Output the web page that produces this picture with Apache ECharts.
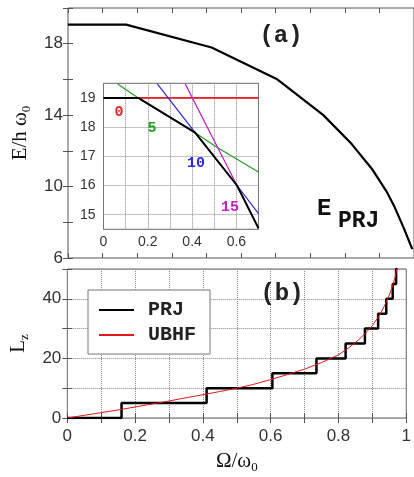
<!DOCTYPE html>
<html><head><meta charset="utf-8">
<script src="https://cdn.jsdelivr.net/npm/echarts@6/dist/echarts.min.js"></script>
<style>html,body{margin:0;padding:0;background:#fff}#c{width:414px;height:477px}</style>
</head><body><div id="c"></div>
<script>
// ---- panel (a): PRJ yrast energy ----
const mainOmega = [0, 0.168, 0.415, 0.603, 0.738, 0.82, 0.878, 0.92, 0.944, 0.962, 0.972, 0.995];
const mainE     = [19.07, 19.07, 17.79, 16.03, 14.0, 12.38, 11.0, 9.75, 8.85, 8.05, 7.6, 6.5];

// ---- inset of (a) ----
const insetPRJOmega = [0, 0.157, 0.414, 0.603, 0.70];
const insetPRJE     = [19.0, 19.0, 17.81, 16.0, 14.53];
const insetL0Omega  = [0, 0.70];
const insetL0E      = [19.0, 19.0];
const insetL5Omega  = [0.064, 0.157, 0.414, 0.512, 0.70];
const insetL5E      = [19.48, 19.0, 17.81, 17.31, 16.46];
const insetL10Omega = [0.243, 0.414, 0.603, 0.70];
const insetL10E     = [19.48, 17.81, 16.0, 15.04];
const insetL15Omega = [0.369, 0.603, 0.70];
const insetL15E     = [19.48, 16.0, 14.55];
const insetLineLabels = ['0', '5', '10', '15'];

// ---- panel (b): angular momentum ----
const stepOmega = [0, 0.160, 0.411, 0.605, 0.735, 0.821, 0.878, 0.917, 0.941, 0.960, 0.970, 0.974];
const stepL     = [0, 5, 10, 15, 20, 25, 30, 35, 40, 45, 50, 50];
const ubhfOmega = [0, 0.05, 0.1, 0.15, 0.2, 0.25, 0.3, 0.35, 0.4, 0.45, 0.5, 0.55, 0.6, 0.65, 0.7, 0.75, 0.8, 0.83, 0.86, 0.88, 0.9, 0.92, 0.935, 0.95, 0.96, 0.967, 0.972];
const ubhfL     = [0, 0.9, 1.8, 2.7, 3.7, 4.7, 5.7, 6.8, 7.8, 8.9, 10.0, 11.3, 12.9, 14.6, 16.4, 18.6, 21.2, 23.5, 26.3, 28.5, 31.0, 34.3, 37.5, 41.2, 44.5, 47.2, 50.0];
const legendNames = ['PRJ', 'UBHF'];

// ---- tick labels ----
const mainYTickLabels   = ['6', '10', '14', '18'];
const bottomYTickLabels = ['0', '20', '40'];
const bottomXTickLabels = ['0', '0.2', '0.4', '0.6', '0.8', '1'];
const insetXTickLabels  = ['0', '0.2', '0.4', '0.6'];
const insetYTickLabels  = ['15', '16', '17', '18', '19'];

const zip = (a, b) => a.map((v, i) => [v, b[i]]);
const fmt = list => v => { const s = String(+(+v).toFixed(3)); return list.includes(s) ? s : ''; };

const tickFont = {fontFamily: 'Liberation Sans', fontSize: 17, color: '#333'};
const serifName = {
  fontFamily: 'Liberation Serif', fontSize: 21, color: '#111',
  rich: {
    a: {fontFamily: 'Liberation Serif', fontSize: 21, lineHeight: 26, color: '#111'},
    b: {fontFamily: 'Liberation Serif', fontSize: 13, lineHeight: 13, verticalAlign: 'bottom', color: '#111'}
  }
};
const inTick = {show: true, inside: true, length: 5, lineStyle: {color: '#555', width: 1}};
const dotted = {show: true, lineStyle: {type: 'dotted', color: '#888', width: 1}};
const monoBold = (size) => 'bold ' + size + 'px "Liberation Mono"';

const chart = echarts.init(document.getElementById('c'), null, {renderer: 'canvas'});
chart.setOption({
  animation: false,
  backgroundColor: '#fff',
  grid: [
    {left: 68, top: 8, width: 346, height: 250, show: true, borderColor: '#555', borderWidth: 1},
    {left: 103.5, top: 83.3, width: 155, height: 146, show: true, backgroundColor: '#fff', borderColor: '#666', borderWidth: 1},
    {left: 65, top: 269, width: 349, height: 149, show: true, borderColor: '#666', borderWidth: 1}
  ],
  xAxis: [
    {gridIndex: 0, type: 'value', min: 0, max: 1, interval: 0.1, axisLine: {show: false}, axisTick: inTick, axisLabel: {show: false}, splitLine: {show: false}},
    {gridIndex: 0, type: 'value', position: 'top', min: 0, max: 1, interval: 0.1, axisLine: {show: false}, axisTick: inTick, axisLabel: {show: false}, splitLine: {show: false}},
    {gridIndex: 1, type: 'value', min: 0, max: 0.7, interval: 0.1, axisLine: {show: false}, axisTick: {show: false},
     axisLabel: {formatter: fmt(insetXTickLabels), fontFamily: 'Liberation Sans', fontSize: 14, color: '#333', margin: 6}, splitLine: dotted},
    {gridIndex: 2, type: 'value', min: 0, max: 1, interval: 0.1, axisLine: {show: false}, axisTick: inTick,
     axisLabel: Object.assign({formatter: fmt(bottomXTickLabels), margin: 10, showMaxLabel: true}, tickFont), splitLine: dotted,
     name: '{a|Ω/ω}{b|0}', nameLocation: 'middle', nameGap: 30, nameTextStyle: serifName},
    {gridIndex: 2, type: 'value', position: 'top', min: 0, max: 1, interval: 0.1, axisLine: {show: false}, axisTick: inTick, axisLabel: {show: false}, splitLine: {show: false}}
  ],
  yAxis: [
    {gridIndex: 0, type: 'value', min: 6, max: 20, interval: 2, axisLine: {show: false}, axisTick: inTick,
     axisLabel: Object.assign({formatter: fmt(mainYTickLabels), margin: 5}, tickFont), splitLine: {show: false},
     name: '{a|E/h ω}{b|0}', nameLocation: 'middle', nameGap: 32, nameRotate: 90, nameTextStyle: serifName},
    {gridIndex: 0, type: 'value', position: 'right', min: 6, max: 20, interval: 2, axisLine: {show: false}, axisTick: inTick, axisLabel: {show: false}, splitLine: {show: false}},
    {gridIndex: 1, type: 'value', min: 14.5, max: 19.5, splitNumber: 5, axisLine: {show: false}, axisTick: {show: false},
     axisLabel: {formatter: fmt(insetYTickLabels), fontFamily: 'Liberation Sans', fontSize: 14, color: '#333', margin: 8, showMinLabel: false, showMaxLabel: false}, splitLine: dotted},
    {gridIndex: 2, type: 'value', min: 0, max: 50, interval: 10, axisLine: {show: false}, axisTick: inTick,
     axisLabel: Object.assign({formatter: fmt(bottomYTickLabels), margin: 6}, tickFont), splitLine: dotted,
     name: '{a|L}{b|z}', nameLocation: 'middle', nameGap: 34, nameRotate: 90, nameTextStyle: serifName},
    {gridIndex: 2, type: 'value', position: 'right', min: 0, max: 50, interval: 10, axisLine: {show: false}, axisTick: inTick, axisLabel: {show: false}, splitLine: {show: false}}
  ],
  legend: {
    data: legendNames, left: 88, top: 290, orient: 'vertical', itemWidth: 35, itemHeight: 14, itemGap: 5,
    padding: [10, 14, 9, 10], borderColor: '#777', borderWidth: 1, backgroundColor: '#fff',
    itemStyle: {opacity: 0},
    textStyle: {fontFamily: 'Liberation Mono', fontWeight: 'bold', fontSize: 20, color: '#222', padding: [0, 0, 0, 9]}
  },
  series: [
    {name: 'Eprj', type: 'line', xAxisIndex: 0, yAxisIndex: 0, data: zip(mainOmega, mainE), symbol: 'none', lineStyle: {color: '#000', width: 2.2}, z: 3},
    {name: 'L0', type: 'line', xAxisIndex: 2, yAxisIndex: 2, data: zip(insetL0Omega, insetL0E), symbol: 'none', lineStyle: {color: '#e8202a', width: 1.6}, z: 4},
    {name: 'L5', type: 'line', xAxisIndex: 2, yAxisIndex: 2, data: zip(insetL5Omega, insetL5E), symbol: 'none', lineStyle: {color: '#23a023', width: 1.2}, z: 4},
    {name: 'L10', type: 'line', xAxisIndex: 2, yAxisIndex: 2, data: zip(insetL10Omega, insetL10E), symbol: 'none', lineStyle: {color: '#2a2ae6', width: 1.2}, z: 4},
    {name: 'L15', type: 'line', xAxisIndex: 2, yAxisIndex: 2, data: zip(insetL15Omega, insetL15E), symbol: 'none', lineStyle: {color: '#c21fc2', width: 1.2}, z: 4},
    {name: 'Einset', type: 'line', xAxisIndex: 2, yAxisIndex: 2, data: zip(insetPRJOmega, insetPRJE), symbol: 'none', lineStyle: {color: '#000', width: 2}, z: 5},
    {name: legendNames[0], type: 'line', xAxisIndex: 3, yAxisIndex: 3, data: zip(stepOmega, stepL), step: 'end', symbol: 'none', showSymbol: false, lineStyle: {color: '#000', width: 2.5}, itemStyle: {color: '#000'}, z: 3},
    {name: legendNames[1], type: 'line', xAxisIndex: 3, yAxisIndex: 3, data: zip(ubhfOmega, ubhfL), symbol: 'none', showSymbol: false, lineStyle: {color: '#e01818', width: 1}, itemStyle: {color: '#e01818'}, z: 4}
  ],
  graphic: [
    {type: 'text', x: 281, y: 36, z: 10, style: {text: '(a)', font: monoBold(24), fill: '#222', align: 'center', verticalAlign: 'middle'}},
    {type: 'text', x: 282, y: 294, z: 10, style: {text: '(b)', font: monoBold(24), fill: '#222', align: 'center', verticalAlign: 'middle'}},
    {type: 'text', x: 317, y: 209, z: 10, style: {text: 'E', font: monoBold(24), fill: '#111', align: 'left', verticalAlign: 'middle'}},
    {type: 'text', x: 338, y: 221, z: 10, style: {text: 'PRJ', font: monoBold(23), fill: '#111', align: 'left', verticalAlign: 'middle'}},
    {type: 'text', x: 119, y: 112, z: 10, style: {text: insetLineLabels[0], font: monoBold(15), fill: '#e8202a', align: 'center', verticalAlign: 'middle'}},
    {type: 'text', x: 152, y: 128, z: 10, style: {text: insetLineLabels[1], font: monoBold(15), fill: '#23a023', align: 'center', verticalAlign: 'middle'}},
    {type: 'text', x: 196, y: 163, z: 10, style: {text: insetLineLabels[2], font: monoBold(15), fill: '#2a2ae6', align: 'center', verticalAlign: 'middle'}},
    {type: 'text', x: 230, y: 207, z: 10, style: {text: insetLineLabels[3], font: monoBold(15), fill: '#c21fc2', align: 'center', verticalAlign: 'middle'}}
  ]
});
</script></body></html>
